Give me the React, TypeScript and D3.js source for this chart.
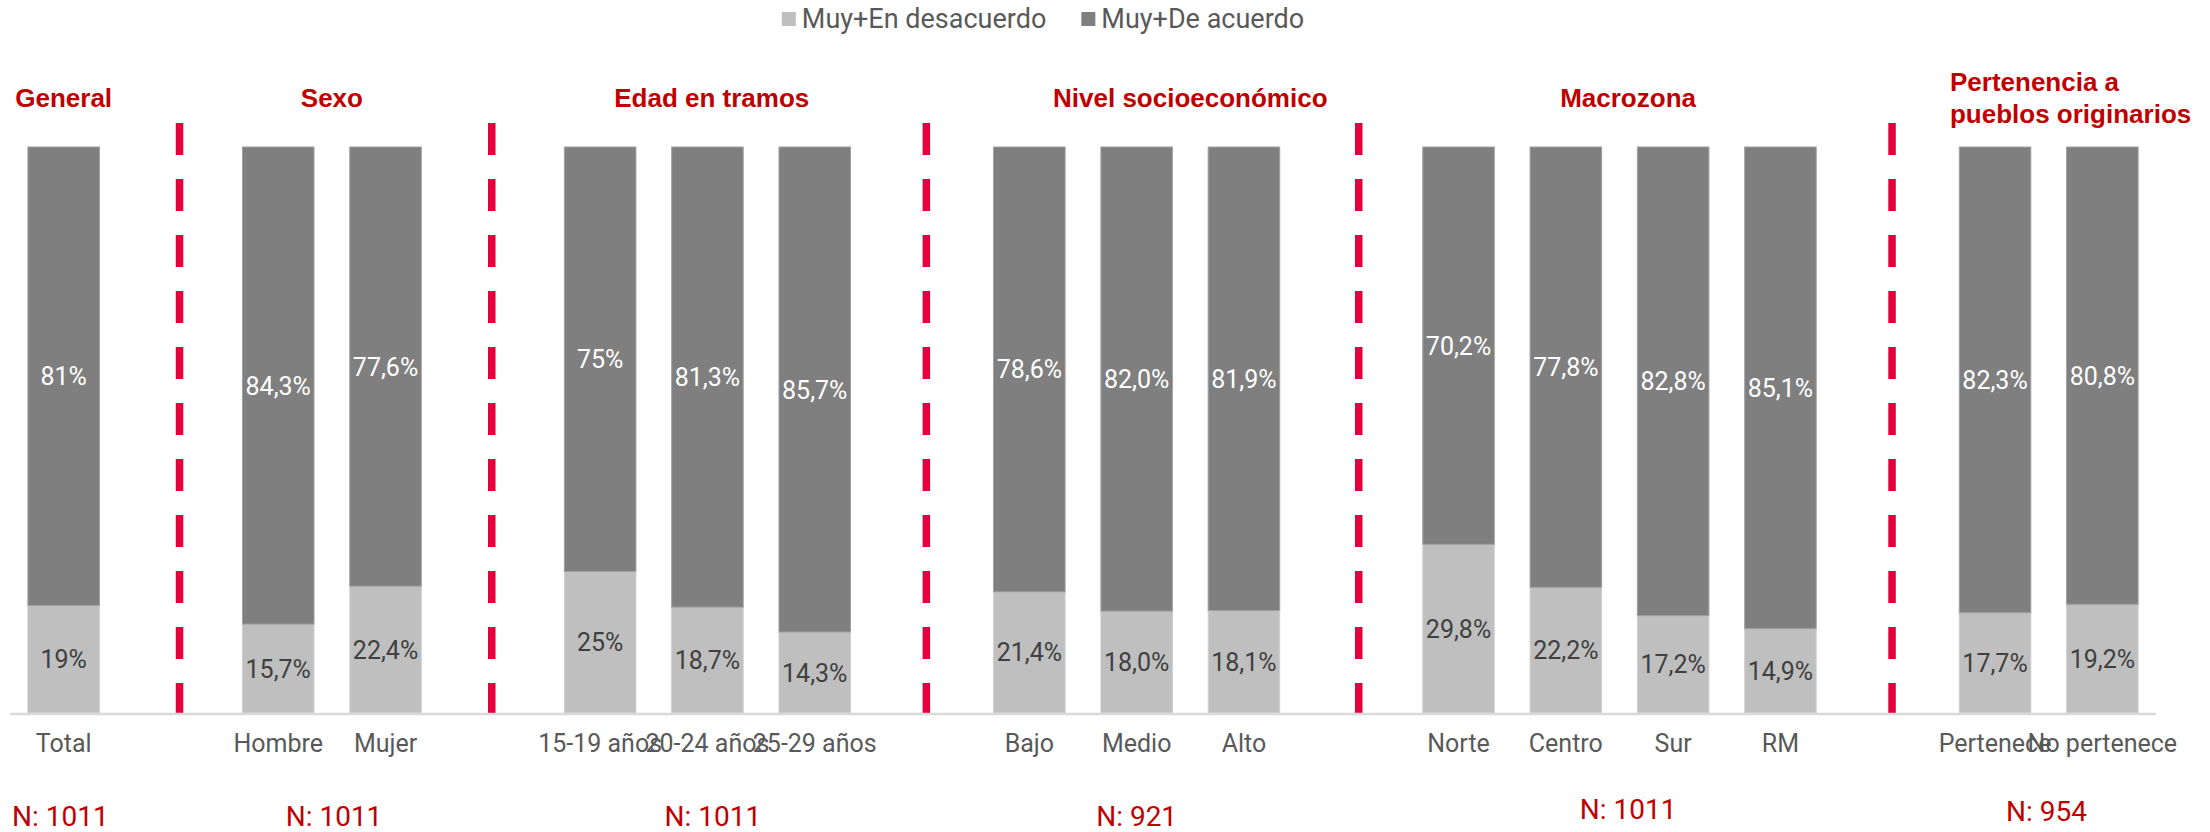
import { useEffect, useRef } from 'react';
import * as d3 from 'd3';

// categories in slot order (empty slots hold the red separators)
const categories = [
  'Total', 'Hombre', 'Mujer', '15-19 años', '20-24 años', '25-29 años',
  'Bajo', 'Medio', 'Alto', 'Norte', 'Centro', 'Sur', 'RM', 'Pertenece', 'No pertenece',
];
const slotOf = [0, 2, 3, 5, 6, 7, 9, 10, 11, 13, 14, 15, 16, 18, 19];
const disagree = [19, 15.7, 22.4, 25, 18.7, 14.3, 21.4, 18.0, 18.1, 29.8, 22.2, 17.2, 14.9, 17.7, 19.2];
const agree = [81, 84.3, 77.6, 75, 81.3, 85.7, 78.6, 82.0, 81.9, 70.2, 77.8, 82.8, 85.1, 82.3, 80.8];
const decimals = [0, 1, 1, 0, 1, 1, 1, 1, 1, 1, 1, 1, 1, 1, 1];
const seriesNames = ['Muy+En desacuerdo', 'Muy+De acuerdo'];
const groupTitles = ['General', 'Sexo', 'Edad en tramos', 'Nivel socioeconómico', 'Macrozona', 'Pertenencia a|pueblos originarios'];
const sampleSizes = ['N: 1011', 'N: 1011', 'N: 1011', 'N: 921', 'N: 1011', 'N: 954'];

// layout (in slot units)
const separatorAt = [1.58, 4.49, 8.54, 12.57, 17.54];
const titleAt = [0.5, 3, 6.54, 11, 15.08, 18.08];
const sampleAt = [0.47, 3.02, 6.55, 10.5, 15.08, 18.98];
const sampleY = [826, 826, 826, 826, 819, 821];

const W = 2210;
const H = 832;
const colors = ['#bfbfbf', '#7f7f7f'];
const red = '#c00000';

const fmt = (v, d) => d3.format(`.${d}f`)(v).replace('.', ',') + '%';

const App = () => {
  const svgRef = useRef(null);

  useEffect(() => {
    const svg = d3.select(svgRef.current);
    svg.selectAll('*').remove();

    const x0 = 10;
    const x1 = 2156;
    const slots = d3.range(20);
    const x = d3.scaleBand().domain(slots).range([x0, x1]).paddingInner(1 / 3).paddingOuter(1 / 6);
    const u = d3.scaleLinear().domain([0, 20]).range([x0, x1]);
    const y = d3.scaleLinear().domain([0, 100]).range([713, 147]);

    const rows = categories.map((c, i) => ({ c, i, slot: slotOf[i], dis: disagree[i], agr: agree[i] }));

    // separators
    svg
      .selectAll('line.sep')
      .data(separatorAt)
      .enter()
      .append('line')
      .attr('x1', (d) => u(d))
      .attr('x2', (d) => u(d))
      .attr('y1', 123)
      .attr('y2', 715)
      .attr('stroke', '#e4003b')
      .attr('stroke-width', 7.5)
      .attr('stroke-dasharray', '32 24');

    // bars
    const g = svg.append('g');
    g.selectAll('rect.dis')
      .data(rows)
      .enter()
      .append('rect')
      .attr('x', (d) => x(d.slot))
      .attr('width', x.bandwidth())
      .attr('y', (d) => y(d.dis))
      .attr('height', (d) => y(0) - y(d.dis))
      .attr('fill', colors[0])
      .attr('stroke', '#d0d0d0')
      .attr('stroke-width', 1);
    g.selectAll('rect.agr')
      .data(rows)
      .enter()
      .append('rect')
      .attr('x', (d) => x(d.slot))
      .attr('width', x.bandwidth())
      .attr('y', (d) => y(d.dis + d.agr))
      .attr('height', (d) => y(d.dis) - y(d.dis + d.agr))
      .attr('fill', colors[1])
      .attr('stroke', '#a0a0a0')
      .attr('stroke-width', 1);

    // axis line
    svg
      .append('line')
      .attr('x1', x0)
      .attr('x2', x1)
      .attr('y1', 714)
      .attr('y2', 714)
      .attr('stroke', '#d9d9d9')
      .attr('stroke-width', 2.5);

    const font = 'Roboto, sans-serif';

    // value labels
    g.selectAll('text.dis')
      .data(rows)
      .enter()
      .append('text')
      .attr('x', (d) => x(d.slot) + x.bandwidth() / 2)
      .attr('y', (d) => (y(0) + y(d.dis)) / 2)
      .attr('dy', '0.36em')
      .attr('text-anchor', 'middle')
      .style('font-family', font)
      .style('font-size', '25px')
      .attr('fill', '#404040')
      .text((d) => fmt(d.dis, decimals[d.i]));
    g.selectAll('text.agr')
      .data(rows)
      .enter()
      .append('text')
      .attr('x', (d) => x(d.slot) + x.bandwidth() / 2)
      .attr('y', (d) => (y(d.dis) + y(d.dis + d.agr)) / 2)
      .attr('dy', '0.36em')
      .attr('text-anchor', 'middle')
      .style('font-family', font)
      .style('font-size', '25px')
      .attr('fill', '#ffffff')
      .text((d) => fmt(d.agr, decimals[d.i]));

    // category labels
    svg
      .selectAll('text.cat')
      .data(rows)
      .enter()
      .append('text')
      .attr('x', (d) => x(d.slot) + x.bandwidth() / 2)
      .attr('y', 752)
      .attr('text-anchor', 'middle')
      .style('font-family', font)
      .style('font-size', '25px')
      .attr('fill', '#595959')
      .text((d) => d.c);

    // group titles
    groupTitles.forEach((t, i) => {
      const lines = t.split('|');
      const multi = lines.length > 1;
      const txt = svg
        .append('text')
        .attr('x', u(titleAt[i]))
        .attr('y', multi ? 91 : 107)
        .attr('text-anchor', multi ? 'start' : 'middle')
        .style('font-family', '"Liberation Sans", Arial, sans-serif')
        .style('font-weight', 'bold')
        .style('font-size', '26px')
        .attr('fill', red);
      lines.forEach((l, k) => {
        txt
          .append('tspan')
          .attr('x', u(titleAt[i]))
          .attr('dy', k === 0 ? 0 : 32)
          .text(l);
      });
    });

    // sample sizes
    svg
      .selectAll('text.n')
      .data(sampleSizes)
      .enter()
      .append('text')
      .attr('x', (d, i) => u(sampleAt[i]))
      .attr('y', (d, i) => sampleY[i])
      .attr('text-anchor', 'middle')
      .style('font-family', font)
      .style('font-size', '28px')
      .attr('fill', red)
      .text((d) => d);

    // legend
    const leg = svg.append('g');
    let cx = 0;
    seriesNames.forEach((name, i) => {
      const item = leg.append('g').attr('transform', `translate(${cx},0)`);
      item.append('rect').attr('x', 0).attr('y', 12).attr('width', 14).attr('height', 14).attr('fill', colors[i]);
      const t = item
        .append('text')
        .attr('x', 20)
        .attr('y', 28)
        .style('font-family', font)
        .style('font-size', '27px')
        .attr('fill', '#595959')
        .text(name);
      cx += 20 + t.node().getComputedTextLength() + 35;
    });
    const legW = cx - 35;
    leg.attr('transform', `translate(${1043 - legW / 2},0)`);
  }, []);

  return (
    <div style={{ position: 'absolute', left: 0, top: 0 }}>
      <svg ref={svgRef} width={W} height={H} style={{ display: 'block', background: '#fff' }}></svg>
    </div>
  );
};

export default App;
